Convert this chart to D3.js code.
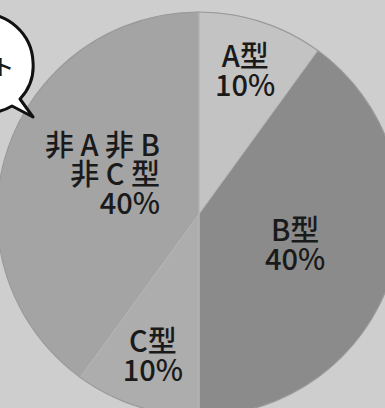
<!DOCTYPE html>
<html>
<head>
<meta charset="utf-8">
<script src="https://cdn.jsdelivr.net/npm/d3@7"></script>
<style>
  html, body { margin: 0; padding: 0; background: #cecece; overflow: hidden; }
  .pieText { font-family: "Noto Sans CJK JP", "Noto Sans", sans-serif; fill: #1a1a1a; font-weight: 500; }
</style>
</head>
<body>
<div id="pie"></div>
<script>
// blood type share
var types = ["A型", "B型", "C型", "非 A 非 B|非 C 型"];
var shares = [10, 40, 10, 40];
var percentLabels = ["10%", "40%", "10%", "40%"];

var width = 385;
var height = 408;
var radius = 202;
var cx = 199, cy = 214;

var color = d3.scaleOrdinal()
            .domain(types)
            .range(["#c3c3c3", "#8b8b8b", "#adadad", "#a4a4a4"]);

var svg = d3.select("#pie")
            .append("svg")
            .attr("width", width)
            .attr("height", height);

svg.append("rect")
   .attr("width", width)
   .attr("height", height)
   .attr("fill", "#cecece");

var canvas = svg.append("g")
               .attr("transform", "translate(" + cx + "," + cy + ")");

var pie = d3.pie().sort(null).value(function(d){ return d.share; });
var arc = d3.arc().innerRadius(0).outerRadius(radius);

var rows = types.map(function(t, i){
  return {type: t, share: shares[i], pct: percentLabels[i]};
});

var slices = canvas.selectAll("g.slice")
             .data(pie(rows))
             .enter()
             .append("g").attr("class", "slice");

slices.append("path")
      .attr("d", arc)
      .attr("fill", function(d){ return color(d.data.type); })
      .attr("stroke", "#b6b6b6")
      .attr("stroke-width", 1);

// soft dark rim
canvas.append("circle")
      .attr("r", radius)
      .attr("fill", "none")
      .attr("stroke", "#7c7c7c")
      .attr("stroke-opacity", 0.5)
      .attr("stroke-width", 1.2);

// labels: small slices sit further out, big ones nearer the middle
slices.each(function(d){
  var big = d.data.share > 20;
  var lr = radius * (big ? 0.5 : 0.74);
  var pos = d3.arc().innerRadius(lr).outerRadius(lr).centroid(d);
  var lines = d.data.type.split("|").concat([d.data.pct]);
  var lineH = 29;
  var x = pos[0], y = pos[1];
  var anchor = "middle";
  if (big && lines.length > 2) { anchor = "end"; x += 57; y -= 8; }
  var top = y - (lines.length - 1) * lineH / 2 + 10;
  var g = d3.select(this);
  lines.forEach(function(s, i){
    g.append("text")
     .attr("class", "pieText")
     .attr("text-anchor", anchor)
     .attr("font-size", 29)
     .attr("x", x)
     .attr("y", top + i * lineH)
     .text(s);
  });
});

// speech bubble cut by the left edge
var bubble = svg.append("g");
bubble.append("path")
      .attr("d", "M-20,14 A50,50 0 0 1 33,62 A48,48 0 0 1 20,99 L33,117 L12,106 A48,48 0 0 1 -20,112 Z")
      .attr("fill", "#ffffff")
      .attr("stroke", "#111111")
      .attr("stroke-width", 3)
      .attr("stroke-linejoin", "round");
bubble.append("text")
      .attr("class", "pieText")
      .attr("x", 14)
      .attr("y", 75)
      .attr("text-anchor", "end")
      .attr("font-size", 22)
      .text("ト");
</script>
</body>
</html>
